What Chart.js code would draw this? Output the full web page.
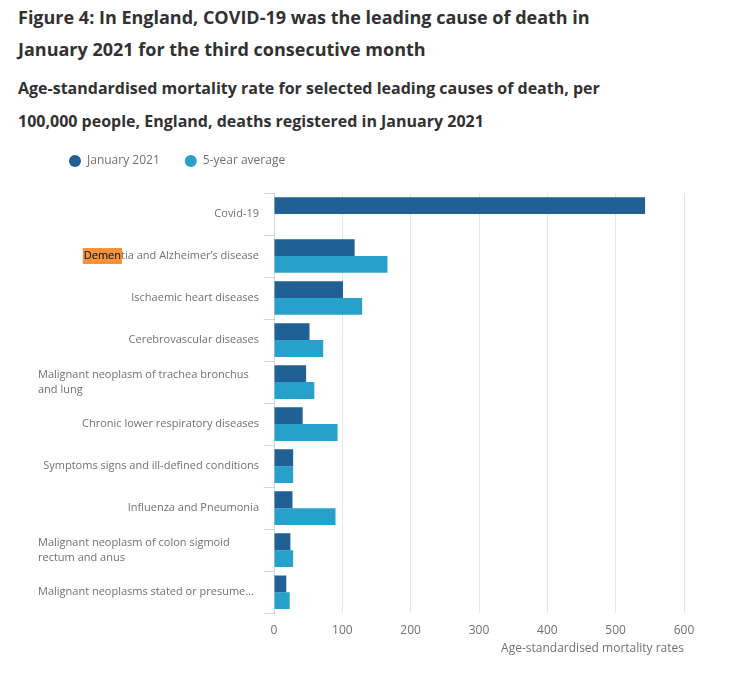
<!DOCTYPE html>
<html lang="en">
<head>
    <meta charset="UTF-8">
    <title>Figure 4: Leading causes of death, January 2021</title>
    <style>
        * { margin: 0; padding: 0; box-sizing: border-box; }

        body {
            font-family: 'Open Sans', sans-serif;
            background: #fff;
            width: 747px;
            height: 677px;
            position: relative;
            overflow: hidden;
        }

        h1 {
            position: absolute;
            left: 18px;
            top: 1px;
            width: 620px;
            font-size: 18px;
            line-height: 32px;
            font-weight: 700;
            color: #323132;
        }

        h2 {
            position: absolute;
            left: 18px;
            top: 72px;
            width: 620px;
            font-size: 16px;
            line-height: 33px;
            font-weight: 700;
            color: #323132;
        }

        .chart-box {
            position: absolute;
            left: 0;
            top: 130px;
            width: 747px;
            height: 530px;
        }
    </style>
</head>
<body>
    <h1>Figure 4: In England, COVID-19 was the leading cause of death in January 2021 for the third consecutive month</h1>
    <h2>Age-standardised mortality rate for selected leading causes of death, per 100,000 people, England, deaths registered in January 2021</h2>
    <div class="chart-box"><canvas id="chart"></canvas></div>

    <script src="https://cdn.jsdelivr.net/npm/chart.js"></script>
    <script>
        // categories (wrapped / truncated ones are arrays, drawn left-aligned like the original)
        const causes = [
            'Covid-19',
            'Dementia and Alzheimer\u2019s disease',
            'Ischaemic heart diseases',
            'Cerebrovascular diseases',
            ['Malignant neoplasm of trachea bronchus', 'and lung'],
            'Chronic lower respiratory diseases',
            'Symptoms signs and ill-defined conditions',
            'Influenza and Pneumonia',
            ['Malignant neoplasm of colon sigmoid', 'rectum and anus'],
            ['Malignant neoplasms stated or presume...']
        ];

        // rates per 100,000
        const jan2021 = [543, 118, 101, 52, 47, 42, 28, 27, 24, 18];
        const fiveYearAvg = [null, 166, 129, 72, 59, 93, 28, 90, 28, 23];

        const xTicks = [0, 100, 200, 300, 400, 500, 600];

        const darkBlue = '#206095';
        const lightBlue = '#27a0cc';
        const labelGrey = '#707071';

        // the orange find-in-page highlight on the second label
        const highlightIndex = 1;
        const highlightText = 'Demen';

        // extra room between legend and bars
        const legendGap = {
            id: 'legendGap',
            beforeInit(chart) {
                const fit = chart.legend.fit;
                chart.legend.fit = function () {
                    fit.call(this);
                    this.height += 16;
                };
            }
        };

        // draws the category labels: single lines right-aligned,
        // wrapped ones left-aligned in a fixed-width block
        const causeLabels = {
            id: 'causeLabels',
            afterDraw(chart) {
                const ctx = chart.ctx;
                const yScale = chart.scales.y;
                const right = chart.chartArea.left - 15;
                const blockLeft = chart.chartArea.left - 236;
                ctx.save();
                ctx.font = '11px "Open Sans"';
                ctx.textBaseline = 'middle';
                causes.forEach((lab, i) => {
                    const cy = yScale.getPixelForTick(i);
                    ctx.fillStyle = labelGrey;
                    if (Array.isArray(lab)) {
                        ctx.textAlign = 'left';
                        lab.forEach((line, j) => {
                            ctx.fillText(line, blockLeft, cy + (j - (lab.length - 1) / 2) * 15);
                        });
                        return;
                    }
                    ctx.textAlign = 'right';
                    if (i === highlightIndex) {
                        const start = right - ctx.measureText(lab).width;
                        const w = ctx.measureText(highlightText).width;
                        ctx.fillStyle = '#f7923a';
                        ctx.fillRect(start - 1, cy - 8, w + 2, 16);
                        ctx.fillStyle = labelGrey;
                        ctx.fillText(lab, right, cy);
                        ctx.fillStyle = '#1a1a1a';
                        ctx.textAlign = 'left';
                        ctx.fillText(highlightText, start, cy);
                        return;
                    }
                    ctx.fillText(lab, right, cy);
                });
                ctx.restore();
            }
        };

        new Chart(document.getElementById('chart'), {
            type: 'bar',
            data: {
                labels: causes,
                datasets: [
                    {
                        label: 'January 2021',
                        data: jan2021,
                        backgroundColor: darkBlue,
                        barPercentage: 1,
                        categoryPercentage: 0.8
                    },
                    {
                        label: '5-year average',
                        data: fiveYearAvg,
                        backgroundColor: lightBlue,
                        barPercentage: 1,
                        categoryPercentage: 0.8
                    }
                ]
            },
            options: {
                indexAxis: 'y',
                responsive: true,
                maintainAspectRatio: false,
                animation: false,
                layout: {
                    padding: { left: 44, right: 63, top: 0, bottom: 4 }
                },
                plugins: {
                    tooltip: { enabled: false },
                    legend: {
                        position: 'top',
                        align: 'start',
                        labels: {
                            usePointStyle: true,
                            pointStyle: 'circle',
                            boxWidth: 12,
                            boxHeight: 8.5,
                            padding: 25,
                            color: labelGrey,
                            font: { family: 'Open Sans', size: 12 }
                        }
                    }
                },
                scales: {
                    x: {
                        min: 0,
                        max: 600,
                        afterBuildTicks: scale => {
                            scale.ticks = xTicks.map(v => ({ value: v }));
                        },
                        grid: {
                            color: '#e6e6e6',
                            drawTicks: false
                        },
                        border: { display: false },
                        ticks: {
                            color: labelGrey,
                            padding: 10,
                            font: { family: 'Open Sans', size: 12 }
                        },
                        title: {
                            display: true,
                            text: 'Age-standardised mortality rates',
                            align: 'end',
                            color: labelGrey,
                            padding: { top: -6, bottom: 0 },
                            font: { family: 'Open Sans', size: 12 }
                        }
                    },
                    y: {
                        afterFit: scale => { scale.width = 230; },
                        grid: {
                            drawOnChartArea: false,
                            drawTicks: true,
                            tickLength: 10,
                            color: '#ccd6eb',
                            offset: true
                        },
                        border: { display: true, color: '#ccd6eb' },
                        ticks: { display: false }
                    }
                }
            },
            plugins: [legendGap, causeLabels]
        });
    </script>
</body>
</html>
